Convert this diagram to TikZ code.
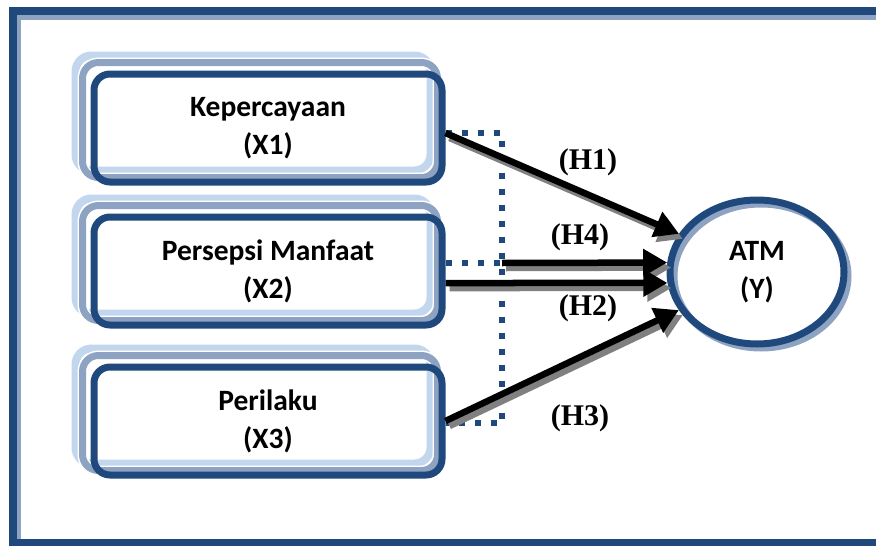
\documentclass[tikz,border=0pt]{standalone}
\usepackage{fontspec}
\setmainfont{Liberation Serif}
\newfontfamily\boxfont{Carlito}
\usetikzlibrary{shapes.geometric}
\usetikzlibrary{arrows.meta}
\usetikzlibrary{backgrounds}
\usetikzlibrary{positioning}
\definecolor{darkblue}{RGB}{31,73,125}
\definecolor{greyblue}{RGB}{141,163,193}
\definecolor{lightblue}{RGB}{194,214,238}
\definecolor{shadowgrey}{RGB}{128,128,128}

\begin{document}
\begin{tikzpicture}[x=1pt,y=-1pt,
	varbox/.style={draw=darkblue,line width=7pt,rounded corners=16pt,minimum width=348pt,minimum height=108pt,inner sep=0pt,align=center,font=\boxfont\bfseries\fontsize{29.5}{38}\selectfont},
	backbox/.style={line width=8pt,rounded corners=16pt},
	hyp/.style={line width=6.5pt,-{Triangle[length=24pt,width=26pt]}},
	hypshadow/.style={hyp,draw=shadowgrey,transform canvas={shift={(4pt,-5pt)}}},
	dotline/.style={darkblue,line width=6pt,dash pattern=on 6pt off 10pt},
	hlabel/.style={font=\bfseries\fontsize{30}{30}\selectfont}]
	\useasboundingbox (0,0) rectangle (876,546);
	
	% variables
	\node [varbox] (x1) at (268,128) {Kepercayaan\\(X1)};
	\node [varbox] (x2) at (268,271) {Persepsi Manfaat\\(X2)};
	\node [varbox] (x3) at (268,421) {Perilaku\\(X3)};
	\node [draw=darkblue,line width=7pt,ellipse,minimum width=174pt,minimum height=144pt,inner sep=0pt,align=center,font=\boxfont\bfseries\fontsize{29.5}{38}\selectfont] (atm) at (757,272) {ATM\\(Y)};
	
	\begin{pgfonlayer}{background}
		% frame
		\draw [greyblue,line width=6pt] (880,17) -- (18,17) -- (18,549) -- (880,549);
		\draw [darkblue,line width=8pt] (880,11) -- (13,11) -- (13,543) -- (880,543);
		% layered boxes
		\foreach \b in {x1,x2,x3}{
			\draw [backbox,lightblue,fill=white] ([shift={(-15,-15)}]\b.south west) rectangle ([shift={(-15,-15)}]\b.north east);
			\draw [backbox,greyblue,line width=7pt,preaction={draw=white,line width=10pt}] ([shift={(-8,-8)}]\b.south west) rectangle ([shift={(-8,-8)}]\b.north east);
		}
		\draw [greyblue,line width=7pt] ([shift={(4,4)}]atm.center) ellipse [x radius=87, y radius=72];
	\end{pgfonlayer}
	
	% moderating box
	\coordinate (dtr) at (502,133);
	\coordinate (dmid) at (502,263);
	\coordinate (dbr) at (502,423);
	\draw [dotline] (x1.east |- dtr) -- (dtr) -- (dbr) -- (x3.east |- dbr);
	\draw [dotline] (x2.east |- dmid) -- (dmid);
	
	% hypotheses
	\draw [hypshadow] ([yshift=-5pt]x1.east) -- (atm.154);
	\draw [hypshadow] (dmid) -- (atm.174);
	\draw [hypshadow] ([yshift=-12pt]x2.east) -- (atm.187);
	\draw [hypshadow] (x3.east) -- (atm.206);
	\draw [hyp] ([yshift=-5pt]x1.east) -- (atm.154);
	\draw [hyp] (dmid) -- (atm.174);
	\draw [hyp] ([yshift=-12pt]x2.east) -- (atm.187);
	\draw [hyp] (x3.east) -- (atm.206);
	
	\node [hlabel] (h1) at (588,162) {(H1)};
	\node [hlabel] (h4) at (580,237) {(H4)};
	\node [hlabel] (h2) at (588,308) {(H2)};
	\node [hlabel] (h3) at (580,418) {(H3)};
\end{tikzpicture}
\end{document}
